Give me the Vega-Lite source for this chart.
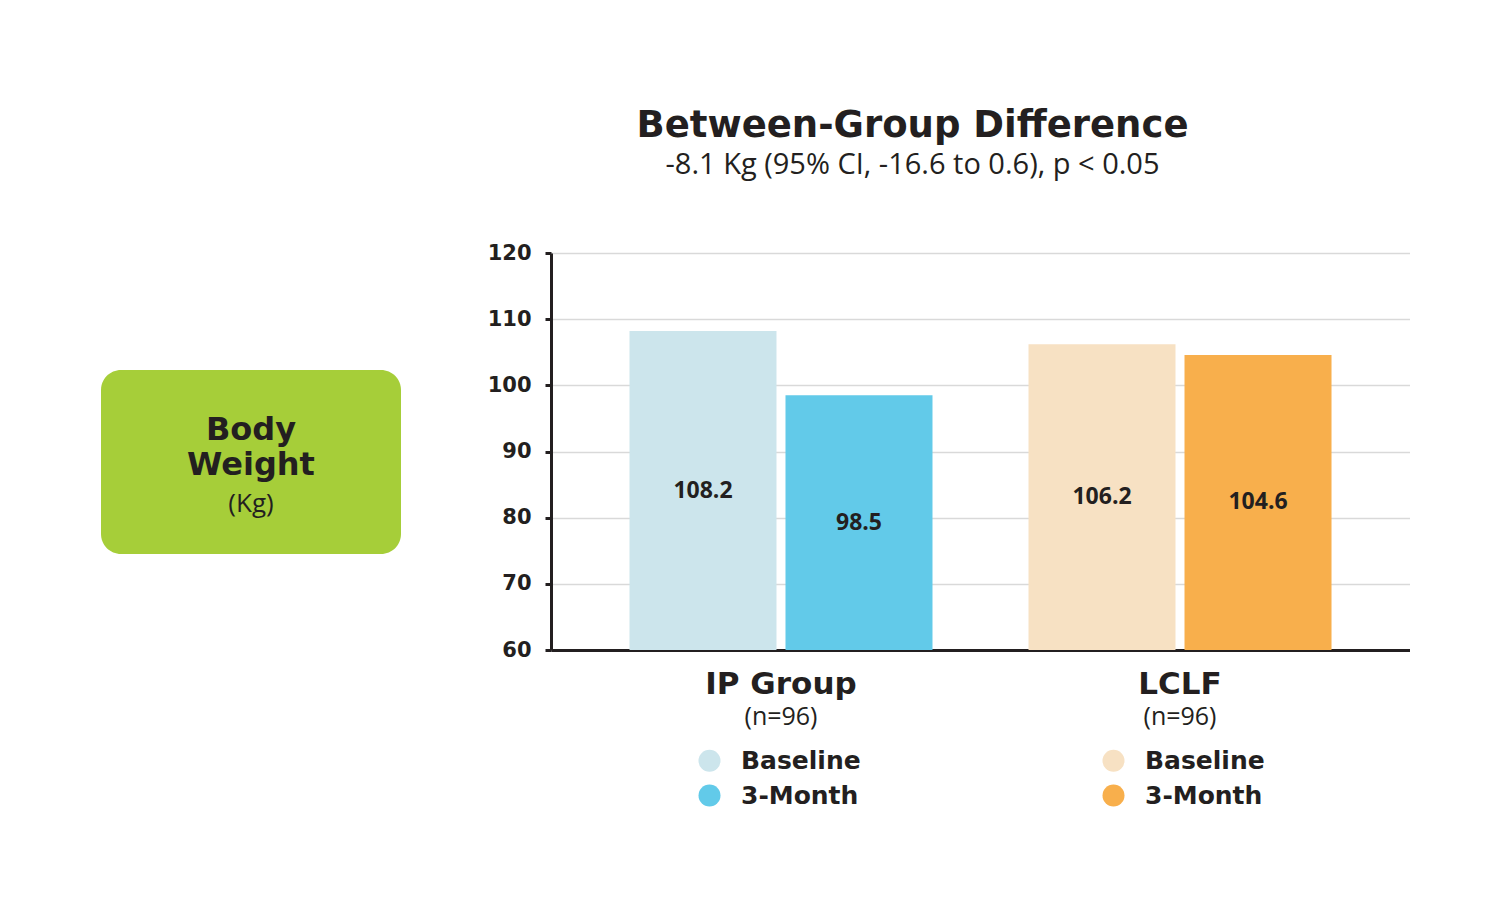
{
  "$schema": "https://vega.github.io/schema/vega-lite/v6.json",
  "background": "white",
  "padding": {"left": 101, "top": 107, "right": 0, "bottom": 0},
  "spacing": 86,
  "center": true,
  "resolve": {"scale": {"color": "independent"}},
  "config": {
    "view": {"stroke": null},
    "legend": {"layout": {"bottom": {"anchor": "middle"}}},
    "axisY": {
      "domainColor": "#231f20", "domainWidth": 3,
      "tickColor": "#231f20", "tickWidth": 3, "tickSize": 6,
      "labelFont": "DejaVu Sans", "labelFontWeight": "bold", "labelFontSize": 21, "labelColor": "#231f20", "labelPadding": 14,
      "gridColor": "#d9d9d9", "gridWidth": 1.5
    }
  },
  "hconcat": [
    {
      "width": 300,
      "height": 184,
      "title": {"text": " ", "orient": "bottom", "fontSize": 10, "offset": 128},
      "view": {"fill": "#a6ce39", "cornerRadius": 20, "stroke": null},
      "data": {"values": [{"name": "Body Weight"}]},
      "layer": [
        {"mark": {"type": "text", "text": ["Body", "Weight"], "lineHeight": 35, "font": "DejaVu Sans", "fontWeight": "bold", "fontSize": 32, "color": "#231f20", "baseline": "middle", "align": "center", "dy": -32}, "encoding": {}},
        {"mark": {"type": "text", "text": "(Kg)", "font": "Open Sans", "fontSize": 26, "color": "#231f20", "baseline": "middle", "align": "center", "dy": 42}, "encoding": {}}
      ]
    },
    {
      "width": 859,
      "height": 397,
      "title": {
        "text": "Between-Group Difference",
        "subtitle": "-8.1 Kg (95% CI, -16.6 to 0.6), p < 0.05",
        "anchor": "middle", "frame": "group", "dx": -68,
        "font": "DejaVu Sans", "fontWeight": "bold", "fontSize": 37, "color": "#231f20",
        "subtitleFont": "Open Sans", "subtitleFontSize": 29, "subtitleColor": "#231f20", "subtitlePadding": 6,
        "offset": 61
      },
      "data": {"values": [
        {"group": "IP Group", "period": "Baseline", "series": "IP Baseline", "value": 108.2},
        {"group": "IP Group", "period": "3-Month", "series": "IP 3-Month", "value": 98.5},
        {"group": "LCLF", "period": "Baseline", "series": "LCLF Baseline", "value": 106.2},
        {"group": "LCLF", "period": "3-Month", "series": "LCLF 3-Month", "value": 104.6}
      ]},
      "layer": [
        {
          "mark": {"type": "bar"},
          "encoding": {
            "x": {"field": "group", "type": "nominal", "sort": ["IP Group", "LCLF"],
              "scale": {"paddingInner": 0.2406, "paddingOuter": 0.1967},
              "axis": {"title": null, "orient": "bottom", "labelAngle": 0, "ticks": false, "domainColor": "#231f20", "domainWidth": 3,
                "labelFont": "DejaVu Sans", "labelFontWeight": "bold", "labelFontSize": 31, "labelColor": "#231f20", "labelPadding": 19}},
            "xOffset": {"field": "period", "type": "nominal", "sort": ["Baseline", "3-Month"], "scale": {"paddingInner": 0.0577, "paddingOuter": 0}},
            "y": {"field": "value", "type": "quantitative", "stack": null, "scale": {"domain": [60, 120], "zero": false, "nice": false},
              "axis": {"title": null, "values": [60, 70, 80, 90, 100, 110, 120]}},
            "color": {"field": "series", "type": "nominal",
              "scale": {"domain": ["IP Baseline", "LCLF Baseline", "IP 3-Month", "LCLF 3-Month"], "range": ["#cce5ec", "#f7e1c3", "#62cae9", "#f8af4c"]},
              "legend": {"orient": "bottom", "columns": 2, "title": null, "labelExpr": "split(datum.label, ' ')[1]",
                "symbolType": "circle", "symbolSize": 484, "symbolStrokeWidth": 0,
                "labelFont": "DejaVu Sans", "labelFontWeight": "bold", "labelFontSize": 25, "labelColor": "#231f20",
                "labelOffset": 19, "columnPadding": 240, "rowPadding": 9, "offset": 19}}
          }
        },
        {
          "transform": [{"calculate": "(datum.value + 60) / 2", "as": "mid"}],
          "mark": {"type": "text", "font": "Open Sans", "fontWeight": "bold", "fontSize": 23, "color": "#231f20", "baseline": "middle"},
          "encoding": {
            "x": {"field": "group", "type": "nominal", "sort": ["IP Group", "LCLF"],
              "axis": {"title": null, "orient": "bottom", "offset": 50, "labelAngle": 0, "ticks": false, "domain": false, "labelExpr": "'(n=96)'",
                "labelFont": "Open Sans", "labelFontSize": 25, "labelColor": "#231f20", "labelPadding": 4}},
            "xOffset": {"field": "period", "type": "nominal", "sort": ["Baseline", "3-Month"]},
            "y": {"field": "mid", "type": "quantitative", "scale": {"domain": [60, 120], "zero": false, "nice": false}, "axis": {"title": null}},
            "text": {"field": "value", "type": "quantitative", "format": ".1f"}
          }
        }
      ],
      "resolve": {"axis": {"x": "independent"}}
    }
  ]
}
